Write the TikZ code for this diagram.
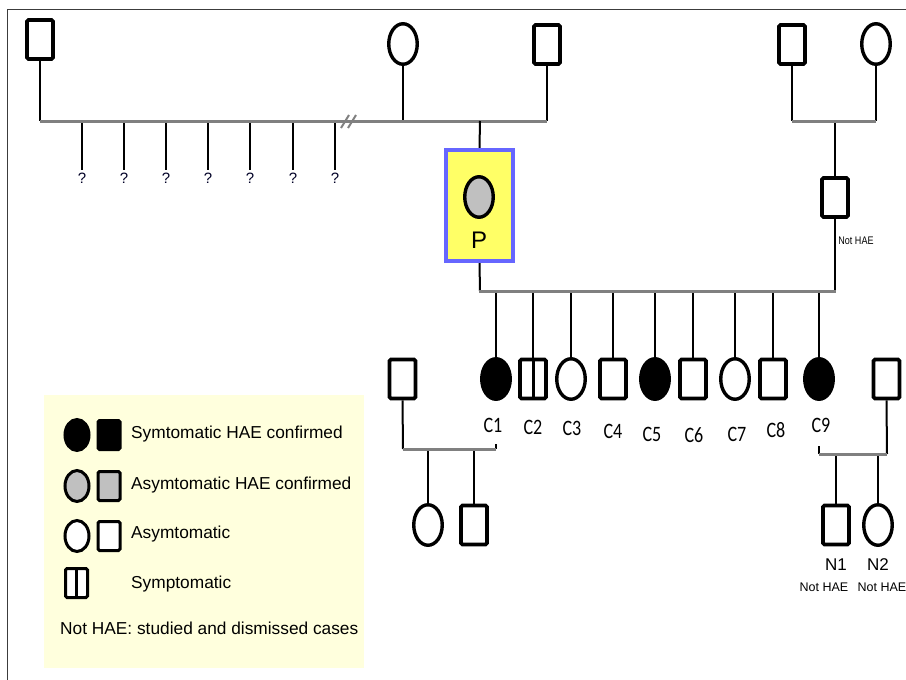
\documentclass[tikz,border=0pt]{standalone}
\usepackage{fontspec}
\setmainfont{Liberation Sans}
\newfontfamily\calib{Carlito}
\usetikzlibrary{shapes.geometric}
\definecolor{lgray}{RGB}{128,128,128}
\definecolor{pgray}{RGB}{192,192,192}
\definecolor{pyellow}{RGB}{255,255,102}
\definecolor{pblue}{RGB}{102,102,255}
\definecolor{legbg}{RGB}{255,255,221}
\definecolor{frame}{RGB}{60,60,60}
\begin{document}
\begin{tikzpicture}[x=1pt,y=-1pt,
  sq/.style={draw,line width=3.6pt,minimum width=26pt,minimum height=39pt,rounded corners=1.5pt,inner sep=0pt,fill=white},
  ell/.style={draw,ellipse,line width=3.4pt,minimum width=28.5pt,minimum height=40.5pt,inner sep=0pt,fill=white},
  lsq/.style={draw,line width=3pt,minimum width=22pt,minimum height=29pt,rounded corners=1.5pt,inner sep=0pt},
  lell/.style={draw,ellipse,line width=3pt,minimum width=24pt,minimum height=31pt,inner sep=0pt},
  conn/.style={line width=2pt,black},
  sib/.style={line width=3pt,lgray},
  qm/.style={font=\fontsize{15}{15}\selectfont,text=black!85!blue,inner sep=0pt},
  clab/.style={font=\calib\fontsize{22}{22}\selectfont,inner sep=0pt,xscale=0.82},
  leg/.style={font=\fontsize{17.3}{18}\selectfont,inner sep=0pt,anchor=west}
]
\useasboundingbox (0,0) rectangle (906,680);
% frame
\draw[frame,line width=1pt] (906,9) -- (7,9) -- (7,680);

% legend background
\fill[legbg] (44,395) rectangle (364,668);

% ---------- top generation ----------
\node[sq] (gf1) at (40,39.5) {};
\node[ell] (gm) at (403,44) {};
\node[sq] (gf2) at (547,44.5) {};
\node[sq] (rgf) at (792,44.5) {};
\node[ell] (rgm) at (876,44) {};

\coordinate (s1L) at (40,121);
\coordinate (s1R) at (547,121);
\draw[conn] (gf1.south) -- (s1L);
\draw[conn] (gm.south) -- (403,121);
\draw[conn] (gf2.south) -- (s1R);

% children with question marks
\foreach \i/\x in {1/82,2/124,3/166,4/208,5/250,6/293,7/335}{
  \node[qm] (q\i) at (\x,178) {?};
  \draw[conn] (\x,121) -- (\x,170);
}
\draw[sib] (s1L) -- (s1R);
% break marks
\draw[lgray,line width=2pt] (341,128) -- (349,115);
\draw[lgray,line width=2pt] (348,128) -- (356,115);

% proband
\node[draw=pblue,fill=pyellow,line width=3.6pt,minimum width=67.5pt,minimum height=111.5pt,inner sep=0pt] (P) at (479.5,205.5) {};
\node[ell,fill=pgray] (Pc) at (479,197) {};
\node[font=\fontsize{24}{24}\selectfont,inner sep=0pt] (Pl) at (479,240) {P};
\draw[conn] (480,121) -- (P.north);

% right grandparents
\coordinate (s2L) at (792,121);
\coordinate (s2R) at (876,121);
\draw[conn] (rgf.south) -- (s2L);
\draw[conn] (rgm.south) -- (s2R);
\node[sq] (H) at (835,197.5) {};
\draw[conn] (835,121) -- (H.north);
\draw[sib] (s2L) -- (s2R);
\node[font=\fontsize{11}{11}\selectfont,inner sep=0pt,xscale=0.82] (Hl) at (856,241) {Not HAE};

% sibship of proband
\coordinate (s3L) at (480,291);
\coordinate (s3R) at (835,291);
\draw[conn] (P.south) -- (s3L);
\draw[conn] (H.south) -- (s3R);

% children C1..C9
\node[ell,fill=black] (C1) at (496,379) {};
\node[sq] (C2) at (533,379) {};
\node[ell] (C3) at (571,379) {};
\node[sq] (C4) at (613,379) {};
\node[ell,fill=black] (C5) at (655,379) {};
\node[sq] (C6) at (693,379) {};
\node[ell] (C7) at (735,379) {};
\node[sq] (C8) at (773,379) {};
\node[ell,fill=black] (C9) at (819,379) {};
\draw[line width=3pt] (C2.north) -- (C2.south);
\foreach \c in {C1,C2,C3,C4,C5,C6,C7,C8,C9}{
  \draw[conn] (\c.north) -- (\c.north |- s3L);
}
\draw[sib] ([xshift=-1pt]s3L) -- ([xshift=1pt]s3R);

\node[clab] (L1) at (493,425) {C1};
\node[clab] (L2) at (533,427) {C2};
\node[clab] (L3) at (572,428) {C3};
\node[clab] (L4) at (613,431) {C4};
\node[clab] (L5) at (652,434) {C5};
\node[clab] (L6) at (694,435) {C6};
\node[clab] (L7) at (737,434) {C7};
\node[clab] (L8) at (776,430) {C8};
\node[clab] (L9) at (821,425) {C9};

% left spouse of C1 and children
\node[sq] (LS) at (402.5,379) {};
\coordinate (s4L) at (403,449);
\coordinate (s4R) at (496,449);
\draw[conn] (LS.south) -- (s4L);
\draw[line width=2.5pt] (496,444) -- (s4R);
\node[ell] (LC1) at (428,525) {};
\node[sq] (LC2) at (474,525) {};
\draw[conn] (LC1.north) -- (LC1.north |- s4L);
\draw[conn] (LC2.north) -- (LC2.north |- s4L);
\draw[sib] (s4L) -- (s4R);

% right spouse of C9 and children
\node[sq] (RS) at (886.5,379) {};
\coordinate (s5L) at (819,454);
\coordinate (s5R) at (887,454);
\draw[conn] (RS.south) -- (s5R);
\draw[line width=2.5pt] (819,446) -- (s5L);
\node[sq] (N1) at (836,525) {};
\node[ell] (N2) at (878,525) {};
\draw[conn] (N1.north) -- (N1.north |- s5L);
\draw[conn] (N2.north) -- (N2.north |- s5L);
\draw[sib] (s5L) -- (s5R);
\node[font=\fontsize{17}{17}\selectfont,inner sep=0pt] (N1l) at (836,565) {N1};
\node[font=\fontsize{17}{17}\selectfont,inner sep=0pt] (N2l) at (878,565) {N2};
\node[font=\fontsize{12.5}{12.5}\selectfont,inner sep=0pt] (N1h) at (824,587) {Not HAE};
\node[font=\fontsize{12.5}{12.5}\selectfont,inner sep=0pt] (N2h) at (882,587) {Not HAE};

% ---------- legend ----------
\node[lell,fill=black] (g1a) at (77,435) {};
\node[lsq,fill=black] (g1b) at (109,435) {};
\node[leg] (g1t) at (131,434) {Symtomatic HAE confirmed};
\node[lell,fill=pgray] (g2a) at (77,486) {};
\node[lsq,fill=pgray] (g2b) at (109,486) {};
\node[leg] (g2t) at (131,485) {Asymtomatic HAE confirmed};
\node[lell,fill=white] (g3a) at (77,536) {};
\node[lsq,fill=white] (g3b) at (109,536) {};
\node[leg] (g3t) at (131,534) {Asymtomatic};
\node[lsq,fill=white] (g4a) at (76.5,583) {};
\draw[line width=2.5pt] (g4a.north) -- (g4a.south);
\node[leg] (g4t) at (131,584) {Symptomatic};
\node[leg] (g5t) at (60,628) {Not HAE: studied and dismissed cases};
\end{tikzpicture}
\end{document}
